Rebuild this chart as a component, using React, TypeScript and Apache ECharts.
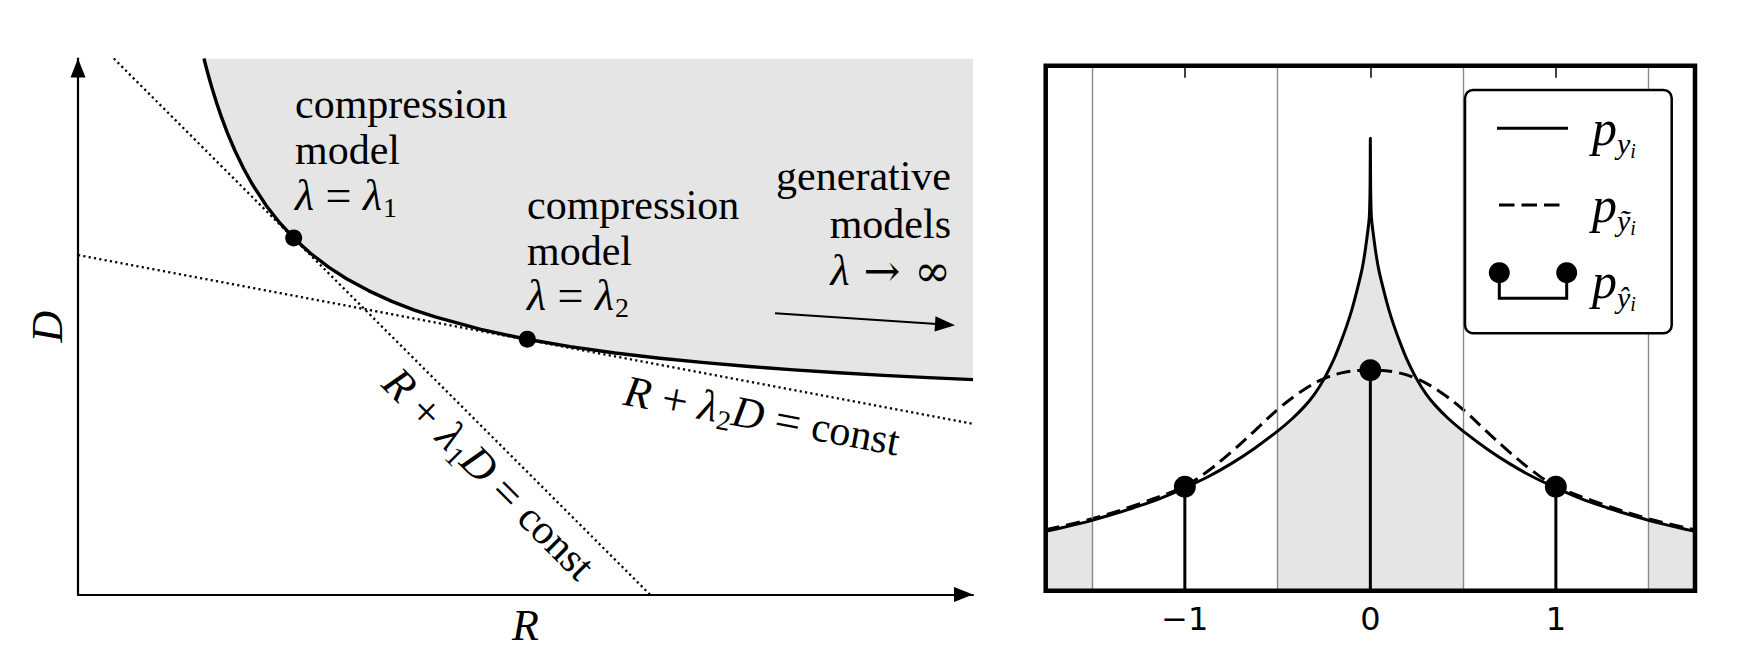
import React, { useEffect, useRef } from 'react';
import * as echarts from 'echarts';

const SERIF = '"Liberation Serif", "DejaVu Serif", "Times New Roman", serif';
const SYM = '"DejaVu Serif", "Liberation Serif", serif';
const SANS = '"DejaVu Sans", "Bitstream Vera Sans", sans-serif';

// ---------- Left panel: rate (R) vs distortion (D) ----------
const curveR = [1.407, 1.43, 1.46, 1.5, 1.55, 1.6, 1.67, 1.75, 1.85, 1.95, 2.1, 2.25, 2.41, 2.6, 2.8, 3.0, 3.25, 3.5, 3.75, 4.0, 4.5, 5.0, 5.5, 6.0, 6.5, 7.0, 7.5, 8.0, 8.5, 9.0, 9.5, 10.0];
const curveD = [6.0, 5.911, 5.799, 5.66, 5.499, 5.352, 5.165, 4.976, 4.769, 4.589, 4.358, 4.165, 3.991, 3.817, 3.664, 3.535, 3.399, 3.284, 3.187, 3.104, 2.967, 2.86, 2.775, 2.704, 2.645, 2.595, 2.552, 2.515, 2.482, 2.453, 2.428, 2.405];
const modelR = [2.41, 5.02];
const modelD = [3.991, 2.858];
const tangent1R = [0.4, 6.39];
const tangent1D = [6.0, 0.0];
const tangent2R = [0.0, 10.0];
const tangent2D = [3.8, 1.91];

// ---------- Right panel: densities ----------
const pyX = [-1.75, -1.625, -1.5, -1.375, -1.25, -1.125, -1.0, -0.875, -0.75, -0.625, -0.5, -0.42, -0.35, -0.3, -0.25, -0.194, -0.16, -0.129, -0.1, -0.072, -0.045, -0.027, -0.012, -0.0054, -0.0015, 0,
  0.0015, 0.0054, 0.012, 0.027, 0.045, 0.072, 0.1, 0.129, 0.16, 0.194, 0.25, 0.3, 0.35, 0.42, 0.5, 0.625, 0.75, 0.875, 1.0, 1.125, 1.25, 1.375, 1.5, 1.625, 1.75];
const pyY = [0.113, 0.123, 0.134, 0.147, 0.161, 0.177, 0.196, 0.217, 0.242, 0.271, 0.304, 0.328, 0.353, 0.375, 0.403, 0.443, 0.473, 0.503, 0.535, 0.572, 0.612, 0.65, 0.69, 0.713, 0.77, 0.862,
  0.77, 0.713, 0.69, 0.65, 0.612, 0.572, 0.535, 0.503, 0.473, 0.443, 0.403, 0.375, 0.353, 0.328, 0.304, 0.271, 0.242, 0.217, 0.196, 0.177, 0.161, 0.147, 0.134, 0.123, 0.113];
const ptildeX = [-1.75, -1.5, -1.25, -1.0, -0.875, -0.75, -0.625, -0.5, -0.375, -0.25, -0.125, 0, 0.125, 0.25, 0.375, 0.5, 0.625, 0.75, 0.875, 1.0, 1.25, 1.5, 1.75];
const ptildeY = [0.116, 0.137, 0.165, 0.199, 0.228, 0.264, 0.304, 0.345, 0.379, 0.404, 0.417, 0.42, 0.417, 0.404, 0.379, 0.345, 0.304, 0.264, 0.228, 0.199, 0.165, 0.137, 0.116];
const phatX = [-1, 0, 1];
const phatY = [0.198, 0.42, 0.198];
const binEdges = [-1.5, -0.5, 0.5, 1.5];
const shadedRanges = [[-1.75, -1.5], [-0.5, 0.5], [1.5, 1.75]];
const xTicks = [-1, 0, 1];
const xTickLabels = ['\u22121', '0', '1'];

const zip = (xs: number[], ys: number[]) => xs.map((x, i) => [x, ys[i]]);

const RIGHT = { left: 1045.7, top: 65.7, width: 649.3, height: 525 };

function buildOption(): any {
  const curvePts = zip(curveR, curveD);
  const pyPts = zip(pyX, pyY);
  const ptPts = zip(ptildeX, ptildeY);

  const txt = (x: number, y: number, text: string, align = 'left') => ({
    type: 'text', x, y, z: 50, silent: true,
    style: { text, fontSize: 42, fontFamily: SERIF, fill: '#000', align, verticalAlign: 'middle' },
  });
  const mathRich = {
    n: { fontSize: 42, fontFamily: SERIF, fill: '#000' },
    e: { fontSize: 46, fontFamily: SERIF, fill: '#000' },
    i: { fontSize: 44, fontFamily: SERIF, fontStyle: 'italic', fill: '#000' },
    s: { fontSize: 28, fontFamily: SERIF, fill: '#000', padding: [23, 0, 0, 1] },
    sym: { fontSize: 44, fontFamily: SYM, fill: '#000' },
  };
  const legRich = {
    p: { fontSize: 50, fontFamily: SERIF, fontStyle: 'italic', fill: '#000' },
    s: { fontSize: 30, fontFamily: SERIF, fontStyle: 'italic', fill: '#000', padding: [32, 0, 0, 0] },
    ss: { fontSize: 20, fontFamily: SERIF, fontStyle: 'italic', fill: '#000', padding: [46, 0, 0, 0] },
  };

  const fills = shadedRanges.map(([a, b], k) => ({
    type: 'line', xAxisIndex: 1, yAxisIndex: 1, silent: true, z: 1,
    data: pyPts.filter((p) => p[0] >= a - 1e-9 && p[0] <= b + 1e-9),
    showSymbol: false, symbol: 'none', smooth: 0.15,
    lineStyle: { width: 0, opacity: 0 },
    areaStyle: { color: '#e5e5e5', opacity: 1 },
    markLine: k === 1 ? {
      silent: true, symbol: ['none', 'none'], label: { show: false },
      lineStyle: { color: '#8a8a8a', width: 1.4, type: 'solid' },
      data: binEdges.map((v) => ({ xAxis: v })),
    } : undefined,
  }));

  const stems = phatX.map((x, i) => ({
    type: 'line', xAxisIndex: 1, yAxisIndex: 1, silent: true, z: 6,
    data: [[x, 0], [x, phatY[i]]], showSymbol: false, symbol: 'none',
    lineStyle: { color: '#000', width: 3 },
  }));

  return {
    animation: false,
    backgroundColor: '#fff',
    grid: [
      { left: 78, top: 58.5, width: 895, height: 536, containLabel: false, outerBoundsMode: 'none' },
      { ...RIGHT, containLabel: false, outerBoundsMode: 'none', show: false },
    ],
    xAxis: [
      {
        gridIndex: 0, type: 'value', min: 0, max: 10,
        name: 'R', nameLocation: 'middle', nameGap: 9,
        nameTextStyle: { fontFamily: SERIF, fontStyle: 'italic', fontSize: 44, color: '#000' },
        axisLine: { show: true, onZero: false, lineStyle: { color: '#000', width: 2.2 },
          symbol: ['none', 'triangle'], symbolSize: [15, 19], symbolOffset: [0, -9.5] },
        axisTick: { show: false }, axisLabel: { show: false }, splitLine: { show: false },
      },
      {
        gridIndex: 1, type: 'value', min: -1.75, max: 1.75, position: 'bottom',
        axisLine: { show: false },
        axisTick: { show: true, inside: true, length: 12, customValues: xTicks, lineStyle: { color: '#000', width: 1.5 } },
        axisLabel: { show: true, customValues: xTicks, margin: 12, fontSize: 32, fontFamily: SANS, color: '#000',
          formatter: (v: number) => { const i = xTicks.indexOf(v); return i >= 0 ? xTickLabels[i] : ''; } },
        splitLine: { show: false },
      },
      {
        gridIndex: 1, type: 'value', min: -1.75, max: 1.75, position: 'top',
        axisLine: { show: false },
        axisTick: { show: true, inside: true, length: 12, customValues: xTicks, lineStyle: { color: '#000', width: 1.5 } },
        axisLabel: { show: false }, splitLine: { show: false },
      },
    ],
    yAxis: [
      {
        gridIndex: 0, type: 'value', min: 0, max: 6,
        name: 'D', nameLocation: 'middle', nameGap: 9, nameRotate: 90,
        nameTextStyle: { fontFamily: SERIF, fontStyle: 'italic', fontSize: 44, color: '#000' },
        axisLine: { show: true, onZero: false, lineStyle: { color: '#000', width: 2.2 },
          symbol: ['none', 'triangle'], symbolSize: [15, 19], symbolOffset: [0, -9.5] },
        axisTick: { show: false }, axisLabel: { show: false }, splitLine: { show: false },
      },
      { gridIndex: 1, type: 'value', min: 0, max: 1, show: false, splitLine: { show: false } },
    ],
    series: [
      // left panel
      {
        type: 'line', xAxisIndex: 0, yAxisIndex: 0, silent: true, z: 1,
        data: curvePts, showSymbol: false, symbol: 'none', smooth: false,
        lineStyle: { width: 0, opacity: 0 },
        areaStyle: { color: '#e5e5e5', opacity: 1, origin: 'end' },
      },
      {
        type: 'line', xAxisIndex: 0, yAxisIndex: 0, silent: true, z: 2,
        data: zip(tangent1R, tangent1D), showSymbol: false, symbol: 'none',
        lineStyle: { color: '#000', width: 2.3, type: [2.2, 3.2] },
      },
      {
        type: 'line', xAxisIndex: 0, yAxisIndex: 0, silent: true, z: 2,
        data: zip(tangent2R, tangent2D), showSymbol: false, symbol: 'none',
        lineStyle: { color: '#000', width: 2.3, type: [2.2, 3.2] },
      },
      {
        type: 'line', xAxisIndex: 0, yAxisIndex: 0, silent: true, z: 3,
        data: curvePts, showSymbol: false, symbol: 'none', smooth: false,
        lineStyle: { color: '#000', width: 3.4, join: 'round' },
      },
      {
        type: 'scatter', xAxisIndex: 0, yAxisIndex: 0, silent: true, z: 4,
        data: zip(modelR, modelD), symbol: 'circle', symbolSize: 17, itemStyle: { color: '#000', opacity: 1 },
      },
      // right panel
      ...fills,
      {
        type: 'line', xAxisIndex: 1, yAxisIndex: 1, silent: true, z: 4,
        data: ptPts, showSymbol: false, symbol: 'none', smooth: 0.35,
        lineStyle: { color: '#000', width: 3, type: [14, 7] },
      },
      {
        type: 'line', xAxisIndex: 1, yAxisIndex: 1, silent: true, z: 5,
        data: pyPts, showSymbol: false, symbol: 'none', smooth: 0.15,
        lineStyle: { color: '#000', width: 3, join: 'round' },
      },
      ...stems,
      {
        type: 'scatter', xAxisIndex: 1, yAxisIndex: 1, silent: true, z: 7,
        data: zip(phatX, phatY), symbol: 'circle', symbolSize: 22, itemStyle: { color: '#000', opacity: 1 },
      },
    ],
    graphic: [
      // annotations left panel
      txt(295, 103.8, 'compression'),
      txt(295, 149.8, 'model'),
      { type: 'text', x: 295, y: 195.8, z: 50, silent: true,
        style: { text: '{i|λ}{e| = }{i|λ}{s|1}', rich: mathRich, align: 'left', verticalAlign: 'middle', fill: '#000' } },
      txt(527, 205.1, 'compression'),
      txt(527, 250.8, 'model'),
      { type: 'text', x: 527, y: 295.8, z: 50, silent: true,
        style: { text: '{i|λ}{e| = }{i|λ}{s|2}', rich: mathRich, align: 'left', verticalAlign: 'middle', fill: '#000' } },
      txt(951, 175.8, 'generative', 'right'),
      txt(951, 224.1, 'models', 'right'),
      { type: 'text', x: 951, y: 270.8, z: 50, silent: true,
        style: { text: '{i|λ}{sym| \u2192 \u221e}', rich: mathRich, align: 'right', verticalAlign: 'middle', fill: '#000' } },
      { type: 'line', z: 50, silent: true, shape: { x1: 775, y1: 313.3, x2: 937, y2: 324 },
        style: { stroke: '#000', lineWidth: 2 } },
      { type: 'polygon', z: 50, silent: true, shape: { points: [[955, 325.2], [934.5, 331.6], [935.5, 316.2]] },
        style: { fill: '#000' } },
      { type: 'text', x: 489, y: 474, rotation: -Math.PI / 4, z: 50, silent: true,
        style: { text: '{i|R}{e| + }{i|λ}{s|1}{i|D}{e| = }{n|const}', rich: mathRich, align: 'center', verticalAlign: 'middle', fill: '#000' } },
      { type: 'text', x: 762, y: 416, rotation: -0.1865, z: 50, silent: true,
        style: { text: '{i|R}{e| + }{i|λ}{s|2}{i|D}{e| = }{n|const}', rich: mathRich, align: 'center', verticalAlign: 'middle', fill: '#000' } },
      // frame of right panel
      { type: 'rect', z: 40, silent: true, shape: { x: RIGHT.left, y: RIGHT.top, width: RIGHT.width, height: RIGHT.height },
        style: { fill: 'none', stroke: '#000', lineWidth: 4.5 } },
      // legend right panel
      { type: 'rect', z: 60, silent: true, shape: { x: 1465, y: 90, width: 206.7, height: 243.3, r: 8 },
        style: { fill: '#fff', stroke: '#000', lineWidth: 2.5 } },
      { type: 'line', z: 61, silent: true, shape: { x1: 1497, y1: 128.3, x2: 1568, y2: 128.3 },
        style: { stroke: '#000', lineWidth: 3 } },
      { type: 'line', z: 61, silent: true, shape: { x1: 1499, y1: 205, x2: 1560, y2: 205 },
        style: { stroke: '#000', lineWidth: 3, lineDash: [15.5, 7] } },
      { type: 'polyline', z: 61, silent: true, shape: { points: [[1499.3, 272.7], [1499.3, 298.3], [1566.7, 298.3], [1566.7, 272.7]] },
        style: { stroke: '#000', lineWidth: 3, fill: 'none' } },
      { type: 'circle', z: 62, silent: true, shape: { cx: 1499.3, cy: 272.7, r: 10.5 }, style: { fill: '#000' } },
      { type: 'circle', z: 62, silent: true, shape: { cx: 1566.7, cy: 272.7, r: 10.5 }, style: { fill: '#000' } },
      { type: 'text', x: 1592, y: 127.8, z: 62, silent: true,
        style: { text: '{p|p}{s|y}{ss|i}', rich: legRich, align: 'left', verticalAlign: 'middle', fill: '#000' } },
      { type: 'text', x: 1592, y: 204.5, z: 62, silent: true,
        style: { text: '{p|p}{s|\u1ef9}{ss|i}', rich: legRich, align: 'left', verticalAlign: 'middle', fill: '#000' } },
      { type: 'text', x: 1592, y: 281.2, z: 62, silent: true,
        style: { text: '{p|p}{s|\u0177}{ss|i}', rich: legRich, align: 'left', verticalAlign: 'middle', fill: '#000' } },
    ],
  };
}

export default function App() {
  const ref = useRef<HTMLDivElement>(null);
  useEffect(() => {
    if (!ref.current) return;
    const chart = echarts.init(ref.current, undefined, { renderer: 'svg' });
    chart.setOption(buildOption());
    return () => chart.dispose();
  }, []);
  return (
    <div
      ref={ref}
      style={{ position: 'absolute', left: 0, top: 0, width: 1739, height: 657, background: '#fff' }}
    />
  );
}
